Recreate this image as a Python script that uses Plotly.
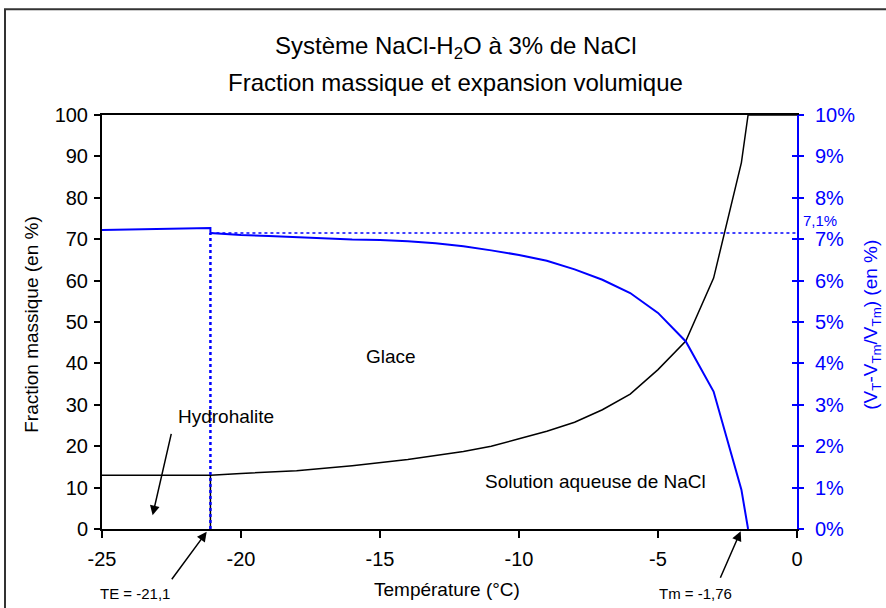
import plotly.graph_objects as go

# ---- data ----
temps_fraction = [-25, -21.1, -20, -18, -16, -14, -12, -11, -10, -9, -8, -7, -6, -5, -4, -3, -2, -1.76, 0]
fraction_massique = [13.0, 13.0, 13.4, 14.1, 15.3, 16.8, 18.7, 20.0, 21.8, 23.6, 25.8, 28.8, 32.6, 38.5, 45.4, 60.6, 88.5, 100, 100]

te_temp = [-21.1, -21.1]
te_fraction = [0, 13.0]

temps_expansion = [-25, -21.1, -21.1, -20, -19, -18, -17, -16, -15, -14, -13, -12, -11, -10, -9, -8, -7, -6, -5, -4, -3, -2, -1.76]
expansion = [7.22, 7.27, 7.15, 7.10, 7.08, 7.05, 7.02, 6.99, 6.98, 6.95, 6.90, 6.83, 6.73, 6.62, 6.48, 6.27, 6.02, 5.70, 5.22, 4.53, 3.32, 0.95, 0.0]

ref_level_x = [-21.1, 0]
ref_level_y = [7.15, 7.15]
ref_vert_x = [-21.1, -21.1]
ref_vert_y = [0, 7.15]

x_ticks = [-25, -20, -15, -10, -5, 0]
x_tick_labels = ["-25", "-20", "-15", "-10", "-5", "0"]
y_ticks = [0, 10, 20, 30, 40, 50, 60, 70, 80, 90, 100]
y2_ticks = [0, 1, 2, 3, 4, 5, 6, 7, 8, 9, 10]
y2_tick_labels = ["0%", "1%", "2%", "3%", "4%", "5%", "6%", "7%", "8%", "9%", "10%"]

BLUE = "#0000FF"
FONT = "Arial, Liberation Sans, sans-serif"

W, H = 886, 608
PL, PR, PT, PB = 102, 797, 115, 529.5  # plot area in pixels

fig = go.Figure()

fig.add_trace(go.Scatter(x=te_temp, y=te_fraction, mode="lines",
                         line=dict(color="black", width=1.5), showlegend=False, hoverinfo="skip"))
fig.add_trace(go.Scatter(x=temps_fraction, y=fraction_massique, mode="lines",
                         line=dict(color="black", width=1.5), showlegend=False))
fig.add_trace(go.Scatter(x=ref_level_x, y=ref_level_y, mode="lines", yaxis="y2",
                         line=dict(color=BLUE, width=1.5, dash="dot"), showlegend=False, hoverinfo="skip"))
fig.add_trace(go.Scatter(x=ref_vert_x, y=ref_vert_y, mode="lines", yaxis="y2",
                         line=dict(color=BLUE, width=2.5, dash="dot"), showlegend=False, hoverinfo="skip"))
fig.add_trace(go.Scatter(x=temps_expansion, y=expansion, mode="lines", yaxis="y2",
                         line=dict(color=BLUE, width=2), showlegend=False))
fig.add_trace(go.Scatter(x=[None], y=[None], yaxis="y3", showlegend=False, hoverinfo="skip"))

tick_font = dict(family=FONT, size=20, color="black")

fig.update_layout(
    width=W, height=H,
    margin=dict(l=PL, r=W - PR, t=PT, b=H - PB),
    paper_bgcolor="white", plot_bgcolor="white",
    font=dict(family=FONT, size=19, color="black"),
    xaxis=dict(range=[-25, 0], tickvals=x_ticks, ticktext=x_tick_labels, ticks="outside", ticklen=7,
               tickwidth=1.5, tickcolor="black", showline=True, linecolor="black", linewidth=2,
               mirror=True, showgrid=False, zeroline=False, tickfont=tick_font, ticklabelstandoff=4),
    yaxis=dict(range=[0, 100], tickvals=y_ticks, ticks="outside", ticklen=6, tickwidth=1.5,
               tickcolor="black", showline=True, linecolor="black", linewidth=2,
               showgrid=False, zeroline=False, tickfont=tick_font, ticklabelstandoff=2),
    yaxis2=dict(range=[0, 10], tickvals=y2_ticks, ticktext=y2_tick_labels, overlaying="y", side="right",
                anchor="x", ticks="outside", ticklen=5, tickwidth=1.5, tickcolor=BLUE,
                showline=True, linecolor=BLUE, linewidth=2, showgrid=False, zeroline=False,
                tickfont=dict(family=FONT, size=20, color=BLUE), ticklabelstandoff=7),
    yaxis3=dict(range=[0, 10], tickvals=y2_ticks, overlaying="y", side="right", anchor="x",
                ticks="inside", ticklen=5, tickwidth=1.5, tickcolor=BLUE, showline=False,
                showticklabels=False, showgrid=False, zeroline=False),
)

def px_x(px):
    return (px - PL) / (PR - PL)

def px_y(py):
    return (PB - py) / (PB - PT)

def label(text, x, y, size=19, color="black", angle=0, paper=True):
    d = dict(text=text, x=x, y=y, showarrow=False, xanchor="center", yanchor="middle",
             textangle=angle, font=dict(size=size, color=color))
    if paper:
        d.update(xref="paper", yref="paper")
    return d

annotations = [
    label("Système NaCl-H<sub>2</sub>O à 3% de NaCl", px_x(455), px_y(47), size=24),
    label("Fraction massique et expansion volumique", px_x(455), px_y(82), size=24),
    label("Fraction massique (en %)", px_x(32), px_y(325), angle=-90),
    label("(V<sub>T</sub>-V<sub>Tm</sub>/V<sub>Tm</sub>) (en %)", px_x(872), px_y(325), color=BLUE, angle=-90),
    label("Température (°C)", px_x(447), px_y(590)),
    label("7,1%", px_x(820), px_y(221), size=15, color=BLUE),
    label("Glace", -14.62, 41.7, paper=False),
    label("Hydrohalite", -20.54, 27.2, paper=False),
    label("Solution aqueuse de NaCl", -7.25, 11.5, paper=False),
    label("TE = -21,1", px_x(135), px_y(594), size=15),
    label("Tm = -1,76", px_x(695), px_y(594), size=15),
    dict(text="", x=-23.18, y=3.3, ax=19, ay=-83, showarrow=True, arrowhead=2, arrowsize=1.3,
         arrowwidth=1.5, arrowcolor="black"),
    dict(text="", x=px_x(206.7), y=px_y(532.3), xref="paper", yref="paper", ax=-36, ay=49,
         showarrow=True, arrowhead=2, arrowsize=1.3, arrowwidth=1.5, arrowcolor="black"),
    dict(text="", x=px_x(740.7), y=px_y(531.7), xref="paper", yref="paper", ax=-21, ay=48,
         showarrow=True, arrowhead=2, arrowsize=1.3, arrowwidth=1.5, arrowcolor="black"),
]
fig.update_layout(annotations=annotations)

# outer chart frame (its right and bottom edges lie beyond the picture)
fig.add_shape(type="rect", xref="paper", yref="paper",
              x0=px_x(5), x1=px_x(900), y0=px_y(640), y1=px_y(9),
              line=dict(color="#333333", width=2), fillcolor="rgba(0,0,0,0)", layer="below")

fig.write_html("out.html",
               config={"displayModeBar": False},
               post_script="document.body.style.margin='0';document.body.style.overflow='hidden';")
